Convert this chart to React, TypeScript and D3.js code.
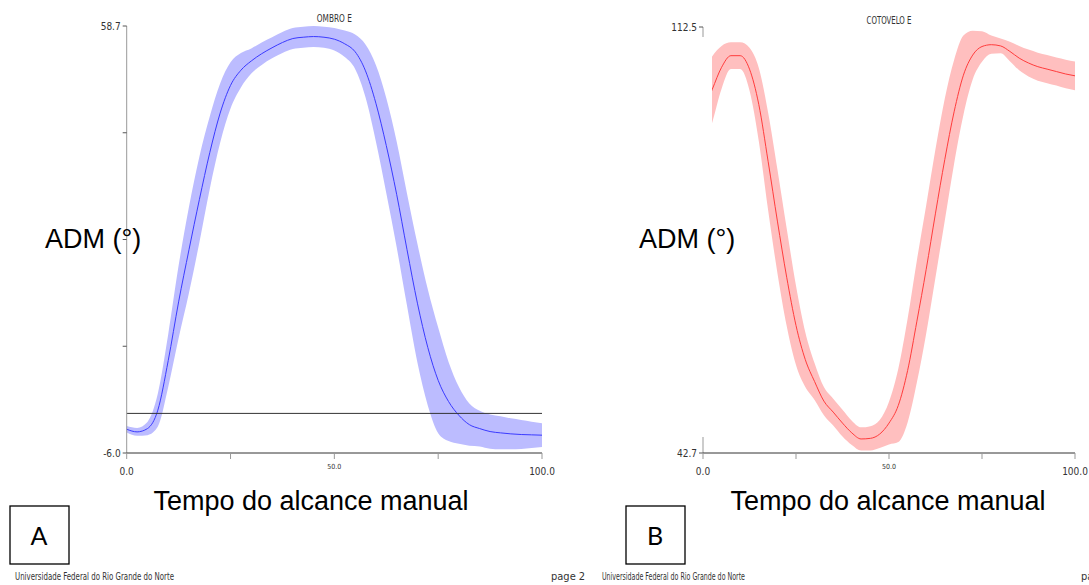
import React, { useEffect, useRef } from "react";
import * as d3 from "d3";

// tempo normalizado do alcance (% do ciclo)
const tempo = [
  0, 2.5, 5, 7.5, 10, 12.5, 15, 17.5, 20, 22.5, 25, 27.5, 30, 32.5, 35, 37.5, 40,
  42.5, 45, 47.5, 50, 52.5, 55, 57.5, 60, 62.5, 65, 67.5, 70, 72.5, 75, 77.5, 80,
  82.5, 85, 87.5, 90, 92.5, 95, 97.5, 100,
];

// ombro E - media e desvio padrao (graus)
const ombroMedia = [
  -2.4, -2.8, -2.3, 0.5, 8.0, 16.9, 24.8, 32.4, 39.5, 45.5, 49.7, 52.0, 53.4, 54.5,
  55.4, 56.2, 56.8, 57.0, 57.1, 57.0, 56.7, 56.0, 54.8, 51.9, 47.0, 40.6, 33.2, 24.8,
  16.7, 10.0, 5.0, 1.8, -0.3, -1.7, -2.3, -2.75, -2.95, -3.1, -3.2, -3.25, -3.3,
];
const ombroDP = [
  0.5, 0.6, 1.0, 2.5, 4.0, 5.5, 6.5, 6.5, 5.5, 4.5, 3.5, 2.6, 1.9, 1.7, 1.6, 1.6,
  1.6, 1.6, 1.6, 1.6, 1.7, 2.0, 2.6, 4.0, 5.8, 7.2, 8.0, 8.5, 9.0, 8.8, 8.0, 6.0,
  4.3, 3.2, 2.7, 2.6, 2.5, 2.35, 2.2, 2.0, 1.8,
];

// cotovelo E - media e desvio padrao (graus)
const cotoveloMedia = [
  98.5, 102.3, 105.9, 107.8, 107.8, 105.6, 99.8, 90.5, 80.7, 71.5, 63.6, 58.0, 54.4,
  51.2, 49.4, 47.6, 46.0, 45.0, 45.1, 45.8, 47.6, 50.5, 56.2, 64.3, 72.8, 82.0, 90.8,
  98.6, 104.6, 107.9, 109.3, 109.6, 109.4, 108.5, 107.4, 106.6, 106.0, 105.6, 105.2,
  104.8, 104.5,
];
const cotoveloDP = [
  6.0, 5.4, 3.5, 2.2, 2.2, 3.5, 6.0, 8.0, 8.5, 8.0, 6.5, 4.5, 3.0, 2.3, 2.2, 2.2,
  2.0, 1.9, 2.0, 2.3, 3.5, 6.0, 8.5, 10.0, 10.5, 10.5, 10.0, 8.5, 6.5, 4.0, 2.5,
  1.5, 1.2, 1.6, 2.0, 2.2, 2.3, 2.3, 2.3, 2.35, 2.35,
];

const xTicks = [0, 25, 50, 75, 100];
const xTickLabels = ["0.0", "", "50.0", "", "100.0"];

const NARROW = "'Liberation Sans Narrow', 'Arial Narrow', 'DejaVu Sans Condensed', sans-serif";
const ARIAL = "'Liberation Sans', Arial, sans-serif";

const paineis = [
  {
    titulo: "OMBRO E", tituloY: 21.5, tituloLarg: 35,
    media: ombroMedia, dp: ombroDP, yDomain: [-6.0, 58.7],
    xRange: [126.7, 542], yRange: [453, 26],
    corFaixa: "#bcbcff", corLinha: "#3a3aff", linhaZero: true, cobertura: null,
    letra: "A", caixaX: 10, admX: 45, tempoX: 311, rodapeX: 15, rodapeLarg: 159, paginaX: 551,
  },
  {
    titulo: "COTOVELO E", tituloY: 23.5, tituloLarg: 45,
    media: cotoveloMedia, dp: cotoveloDP, yDomain: [42.7, 112.5],
    xRange: [703, 1075], yRange: [453, 27],
    corFaixa: "#ffbfbf", corLinha: "#ff3c3c", linhaZero: false, cobertura: [600, 37, 112, 400],
    letra: "B", caixaX: 626, admX: 639, tempoX: 888, rodapeX: 602, rodapeLarg: 143, paginaX: 1081,
  },
];

function desenhaPainel(svg: any, p: any) {
  const x = d3.scaleLinear().domain([0, 100]).range(p.xRange);
  const y = d3.scaleLinear().domain(p.yDomain).range(p.yRange);
  const pontos = tempo.map((t, i) => ({ t, m: p.media[i], dp: p.dp[i] }));
  const g = svg.append("g");

  const faixa = d3.area<any>()
    .x(d => x(d.t))
    .y0(d => y(d.m - d.dp))
    .y1(d => y(d.m + d.dp))
    .curve(d3.curveMonotoneX);
  const linha = d3.line<any>()
    .x(d => x(d.t))
    .y(d => y(d.m))
    .curve(d3.curveMonotoneX);

  g.append("path").attr("d", faixa(pontos)).attr("fill", p.corFaixa);
  g.append("path").attr("d", linha(pontos))
    .attr("fill", "none").attr("stroke", p.corLinha).attr("stroke-width", 1);

  if (p.linhaZero) {
    g.append("line")
      .attr("x1", x(0)).attr("x2", x(100)).attr("y1", y(0)).attr("y2", y(0))
      .attr("stroke", "#333").attr("stroke-width", 1);
  }

  // eixo y
  const [lo, hi] = p.yDomain;
  const yTicks = [0, 1, 2, 3, 4].map(i => lo + (i * (hi - lo)) / 4);
  g.append("line")
    .attr("x1", x(0)).attr("x2", x(0)).attr("y1", y(lo)).attr("y2", y(hi))
    .attr("stroke", "#999");
  g.selectAll(".ytick").data(yTicks).enter().append("line")
    .attr("x1", x(0) - 4).attr("x2", x(0)).attr("y1", d => y(d)).attr("y2", d => y(d))
    .attr("stroke", "#555");
  g.selectAll(".ylab").data([lo, hi]).enter().append("text")
    .attr("x", x(0) - 6).attr("y", d => y(d) + 3.5)
    .attr("text-anchor", "end").attr("font-family", NARROW).attr("font-size", 10)
    .attr("fill", "#333").text(d => d.toFixed(1));

  // eixo x
  g.append("line")
    .attr("x1", x(0)).attr("x2", x(100)).attr("y1", y(lo)).attr("y2", y(lo))
    .attr("stroke", "#333");
  g.selectAll(".xtick").data(xTicks).enter().append("line")
    .attr("x1", d => x(d)).attr("x2", d => x(d)).attr("y1", y(lo)).attr("y2", y(lo) + 6)
    .attr("stroke", "#999");
  g.selectAll(".xlab").data(xTicks).enter().append("text")
    .attr("x", d => x(d)).attr("y", (d, i) => (i === 2 ? y(lo) + 16 : y(lo) + 22))
    .attr("text-anchor", "middle").attr("font-family", NARROW)
    .attr("font-size", (d, i) => (i === 2 ? 7 : 10)).attr("fill", "#333")
    .text((d, i) => xTickLabels[i]);

  g.append("text")
    .attr("x", (x(0) + x(100)) / 2).attr("y", p.tituloY)
    .attr("text-anchor", "middle").attr("font-family", NARROW).attr("font-size", 11)
    .attr("fill", "#333").attr("textLength", p.tituloLarg).attr("lengthAdjust", "spacingAndGlyphs")
    .text(p.titulo);

  if (p.cobertura) {
    const [cx, cy, cw, ch] = p.cobertura;
    g.append("rect").attr("x", cx).attr("y", cy).attr("width", cw).attr("height", ch).attr("fill", "#fff");
  }

  g.append("text").attr("x", p.admX).attr("y", 248)
    .attr("font-family", ARIAL).attr("font-size", 27).attr("fill", "#000").text("ADM (°)");
  g.append("text").attr("x", p.tempoX).attr("y", 510).attr("text-anchor", "middle")
    .attr("font-family", ARIAL).attr("font-size", 27).attr("fill", "#000").text("Tempo do alcance manual");

  g.append("rect").attr("x", p.caixaX).attr("y", 506).attr("width", 59).attr("height", 58)
    .attr("fill", "#fff").attr("stroke", "#000").attr("stroke-width", 1.3);
  g.append("text").attr("x", p.caixaX + 29).attr("y", 545).attr("text-anchor", "middle")
    .attr("font-family", "Lato, 'Open Sans', sans-serif").attr("font-size", 25).attr("fill", "#000")
    .text(p.letra);

  g.append("text").attr("x", p.rodapeX).attr("y", 580)
    .attr("font-family", NARROW).attr("font-size", 11).attr("fill", "#333")
    .attr("textLength", p.rodapeLarg).attr("lengthAdjust", "spacingAndGlyphs")
    .text("Universidade Federal do Rio Grande do Norte");
  g.append("text").attr("x", p.paginaX).attr("y", 580)
    .attr("font-family", NARROW).attr("font-size", 11).attr("fill", "#333")
    .text("page 2");
}

export default function App() {
  const svgRef = useRef<SVGSVGElement>(null);

  useEffect(() => {
    const svg = d3.select(svgRef.current);
    svg.selectAll("*").remove();
    paineis.forEach(p => desenhaPainel(svg, p));
  }, []);

  return (
    <div style={{ position: "absolute", left: 0, top: 0 }}>
      <svg ref={svgRef} width={1089} height={585} style={{ display: "block", background: "#fff" }}></svg>
    </div>
  );
}
